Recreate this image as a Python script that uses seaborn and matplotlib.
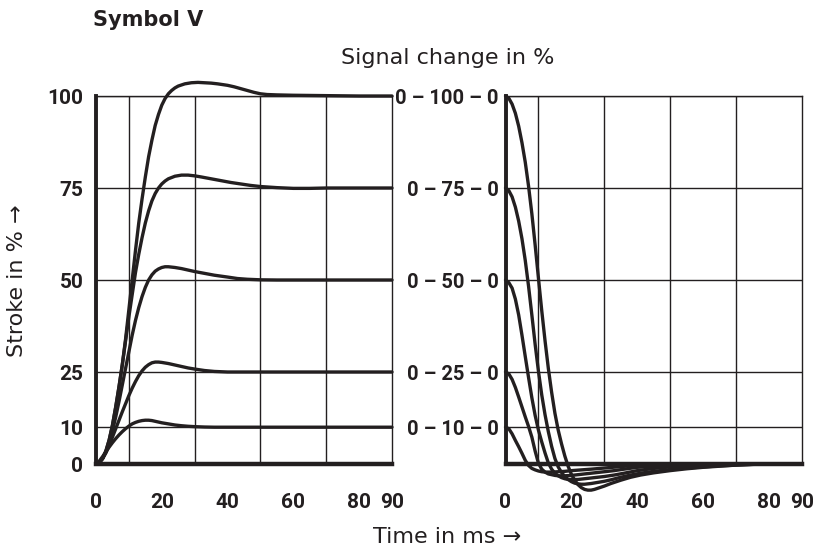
import matplotlib
matplotlib.use("Agg")
import matplotlib.pyplot as plt
from matplotlib import font_manager
import seaborn as sns

# step response: stroke (%) over time (ms), one curve per set-point
levels = [100, 75, 50, 25, 10]
rise_t = {
    100: [0, 1, 2, 3, 4, 5, 6, 7, 8, 9, 10, 11, 12, 13, 14, 15, 16, 17, 18, 19, 20, 21, 22, 23, 24, 25,
          27, 29, 31, 33, 35, 37, 40, 42, 44, 46, 48, 50, 52, 55, 60, 70, 80, 90],
    75: [0, 1, 2, 3, 4, 5, 6, 7, 8, 9, 10, 11, 12, 13, 14, 15, 16, 17, 18, 19, 20, 21, 22, 24, 26, 28,
         30, 32, 35, 38, 41, 44, 47, 50, 55, 60, 65, 70, 80, 90],
    50: [0, 1, 2, 3, 4, 5, 6, 7, 8, 9, 10, 11, 12, 13, 14, 15, 16, 17, 18, 19, 20, 21, 22, 24, 26, 28,
         30, 33, 36, 40, 43, 46, 50, 55, 60, 90],
    25: [0, 1, 2, 3, 4, 5, 6, 7, 8, 9, 10, 11, 12, 13, 14, 15, 16, 17, 18, 19, 20, 22, 24, 26, 28, 30,
         33, 36, 40, 45, 90],
    10: [0, 1, 2, 3, 4, 5, 6, 7, 8, 9, 10, 11, 12, 13, 14, 15, 16, 17, 18, 20, 22, 24, 26, 28, 30, 33,
         36, 40, 90],
}
rise_y = {
    100: [0, 0.4, 1.5, 3.5, 6.5, 10.5, 15.5, 21, 27, 34, 42, 50, 58, 65.5, 72, 78, 83.5, 88, 92, 95,
          97.5, 99.3, 100.6, 101.5, 102.2, 102.7, 103.3, 103.6, 103.7, 103.6, 103.5, 103.3, 102.9,
          102.5, 102, 101.5, 101, 100.6, 100.4, 100.3, 100.2, 100.1, 100, 100],
    75: [0, 0.4, 1.5, 3.5, 6.5, 10.5, 15.5, 21, 27, 33.5, 40, 46, 52, 57, 61.5, 65.5, 68.8, 71.5, 73.5,
         75, 76.1, 76.9, 77.5, 78.2, 78.5, 78.5, 78.3, 78, 77.5, 77, 76.5, 76.1, 75.7, 75.4, 75.1, 74.9,
         74.9, 75, 75, 75],
    50: [0, 0.4, 1.4, 3.2, 5.8, 9, 12.8, 17, 21.5, 26, 30.5, 35, 39, 42.5, 45.5, 48, 50, 51.4, 52.4, 53,
         53.4, 53.6, 53.6, 53.4, 53.1, 52.7, 52.3, 51.8, 51.3, 50.8, 50.4, 50.2, 50.05, 50, 50, 50],
    25: [0, 0.5, 1.5, 3, 5, 7.3, 9.6, 11.9, 14.2, 16.4, 18.6, 20.6, 22.4, 24, 25.3, 26.3, 27, 27.5,
         27.7, 27.7, 27.6, 27.3, 26.9, 26.5, 26.1, 25.8, 25.4, 25.15, 25, 25, 25],
    10: [0, 0.8, 2, 3.3, 4.6, 5.8, 6.9, 7.9, 8.8, 9.6, 10.3, 10.9, 11.3, 11.6, 11.8, 11.9, 11.9, 11.8,
         11.6, 11.2, 10.9, 10.6, 10.4, 10.25, 10.15, 10.05, 10, 10, 10],
}

# signal change 0 - x - 0: fall back to zero with a small undershoot
fall_t = {
    100: [0, 1, 2, 3, 4, 5, 6, 7, 8, 9, 10, 11, 12, 13, 14, 15, 16, 17, 18, 19, 20, 21, 22, 23, 24, 25,
          26, 27, 28, 30, 32, 35, 38, 41, 45, 50, 55, 60, 65, 70, 75, 80],
    75: [0, 1, 2, 3, 4, 5, 6, 7, 8, 9, 10, 11, 12, 13, 14, 15, 16, 17, 18, 19, 20, 21, 22, 23, 24, 26,
         28, 30, 32, 35, 38, 41, 45, 50, 55, 60, 65, 70, 75, 80],
    50: [0, 1, 2, 3, 4, 5, 6, 7, 8, 9, 10, 11, 12, 13, 14, 15, 16, 17, 18, 19, 20, 22, 24, 26, 28, 30,
         33, 36, 40, 45, 50, 55, 60, 65, 70, 80],
    25: [0, 1, 2, 3, 4, 5, 6, 7, 8, 9, 10, 11, 12, 13, 14, 15, 16, 17, 18, 20, 22, 25, 28, 30, 33, 36,
         40, 45, 50, 55, 60, 70, 80],
    10: [0, 1, 2, 3, 4, 5, 6, 7, 8, 9, 10, 11, 12, 13, 14, 16, 18, 20, 23, 26, 30, 35, 40, 45, 50, 55,
         60, 70, 80],
}
fall_y = {
    100: [100, 99.4, 97.8, 95.3, 91.8, 87.3, 82, 75.5, 68, 59.5, 50.5, 41.7, 33.5, 26, 19.5, 13.8, 9.2,
          5.5, 2.2, -0.6, -2.8, -4.4, -5.6, -6.4, -6.9, -7.1, -7.1, -6.9, -6.6, -6, -5.3, -4.4, -3.6,
          -3, -2.4, -1.8, -1.3, -0.9, -0.6, -0.3, -0.1, 0],
    75: [75, 74.3, 72.6, 69.8, 66, 61.2, 55.3, 48.3, 40.5, 32.5, 25.2, 18.8, 13.4, 8.8, 4.8, 1.5, -0.8,
         -2.3, -3.4, -4.2, -4.8, -5.2, -5.4, -5.5, -5.5, -5.3, -5, -4.7, -4.3, -3.6, -3, -2.5, -2, -1.5,
         -1.1, -0.8, -0.5, -0.3, -0.1, 0],
    50: [50, 49.3, 47.8, 44.8, 40.5, 35, 29.2, 23.5, 18, 13.2, 9.2, 6, 3, 0.3, -1.4, -2.5, -3.2, -3.7,
         -4, -4.2, -4.2, -4.2, -4, -3.8, -3.6, -3.4, -3, -2.5, -1.8, -1.2, -0.8, -0.5, -0.3, -0.15,
         -0.05, 0],
    25: [25, 24.5, 23, 20.8, 18.2, 15.5, 12.8, 10.2, 7.3, 3.5, 0.2, -1.4, -2.2, -2.7, -2.9, -3.1, -3.2,
         -3.2, -3.2, -3.1, -2.9, -2.6, -2.3, -2.1, -1.8, -1.4, -0.9, -0.6, -0.4, -0.25, -0.15, -0.05, 0],
    10: [10, 9.6, 8.2, 6.4, 4.7, 2.9, 1, -0.4, -1.2, -1.6, -1.9, -2.1, -2.2, -2.2, -2.2, -2.1, -2, -1.8,
         -1.6, -1.4, -1.1, -0.7, -0.35, -0.2, -0.1, -0.05, 0, 0, 0],
}

y_ticks = [0, 10, 25, 50, 75, 100]
y_labels_left = ["0", "10", "25", "50", "75", "100"]
y_labels_right = ["", "0 \u2013 10 \u2013 0", "0 \u2013 25 \u2013 0", "0 \u2013 50 \u2013 0",
                  "0 \u2013 75 \u2013 0", "0 \u2013 100 \u2013 0"]
x_ticks = [0, 20, 40, 60, 80, 90]

sns.set_theme(style="white")
ink = "#231f20"
names = {f.name for f in font_manager.fontManager.ttflist}
tick_font = "Liberation Sans Narrow" if "Liberation Sans Narrow" in names else "Roboto"
plt.rcParams["font.family"] = ["DejaVu Sans"]

fig = plt.figure(figsize=(8.17, 5.5), dpi=100)
ax1 = fig.add_axes([96 / 817, 86 / 550, 296 / 817, 368 / 550])
ax2 = fig.add_axes([505.5 / 817, 86 / 550, 296.5 / 817, 368 / 550])

for ax, tdata, ydata, labels in [(ax1, rise_t, rise_y, y_labels_left),
                                 (ax2, fall_t, fall_y, y_labels_right)]:
    ax.set_xlim(0, 90)
    ax.set_ylim(0, 100)
    ax.set_xticks(x_ticks)
    ax.set_xticks(range(0, 91, 10), minor=True)
    ax.set_yticks(y_ticks)
    ax.set_yticklabels(labels)
    ax.grid(False)
    ax.grid(which="minor", axis="x", color=ink, lw=1.0)
    ax.grid(which="major", axis="y", color=ink, lw=1.0)
    for s in ["top", "right"]:
        ax.spines[s].set_color(ink)
        ax.spines[s].set_linewidth(1.0)
    ax.spines["left"].set_color(ink)
    ax.spines["left"].set_linewidth(2.8)
    ax.spines["bottom"].set_color(ink)
    ax.spines["bottom"].set_linewidth(3.2)
    ax.tick_params(axis="x", which="both", length=0, pad=21, labelsize=15, colors=ink)
    ax.tick_params(axis="y", which="major", length=0, pad=9, labelsize=15, colors=ink)
    for lvl in levels:
        sns.lineplot(x=tdata[lvl], y=ydata[lvl], ax=ax, color=ink, lw=2.4,
                     clip_on=False, zorder=5, solid_capstyle="round",
                     solid_joinstyle="round", sort=False)
    ax.set_xlabel("")
    ax.set_ylabel("")

ax1.tick_params(axis="y", length=3, width=1, direction="out", pad=6, color=ink)
ax2.tick_params(axis="y", pad=5, labelsize=14.5)
for ax in [ax1, ax2]:
    for lab in ax.get_xticklabels() + ax.get_yticklabels():
        lab.set_fontfamily(tick_font)
        lab.set_fontweight("bold")

fig.text(93 / 817, 1 - 20 / 550, "Symbol V", fontsize=15, fontweight="bold",
         color=ink, ha="left", va="center")
fig.text(448 / 817, 1 - 58 / 550, "Signal change in %", fontsize=16,
         color=ink, ha="center", va="center")
fig.text(447 / 817, 1 - 537 / 550, "Time in ms \u2192", fontsize=16,
         color=ink, ha="center", va="center")
fig.text(17 / 817, 1 - 281 / 550, "Stroke in % \u2192", fontsize=16,
         color=ink, ha="center", va="center", rotation=90)

fig.savefig("out.png", dpi=100)
